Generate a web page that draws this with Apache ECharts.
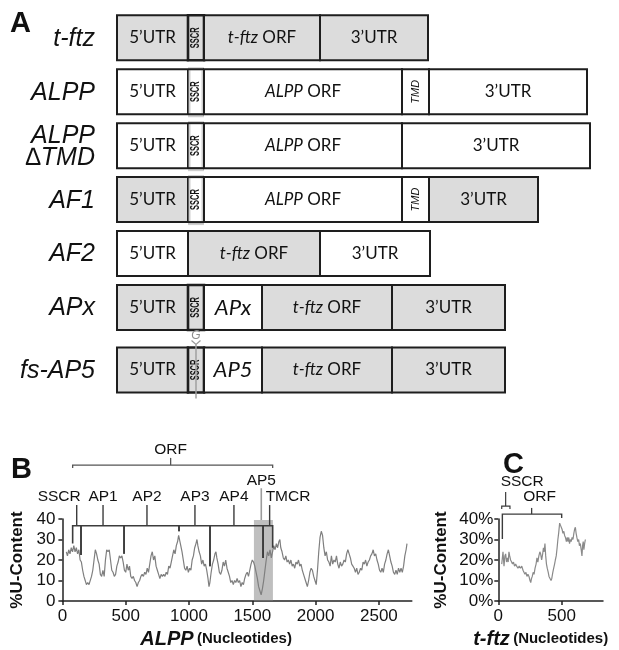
<!DOCTYPE html>
<html><head><meta charset="utf-8">
<script src="https://cdn.jsdelivr.net/npm/echarts@6/dist/echarts.min.js"></script>
<style>html,body{margin:0;padding:0;background:#fff}#c{width:619px;height:650px}</style>
</head><body><div id="c"></div>
<script>
// ---------------- DATA ----------------
// Panel A: construct names and their segments [label, start, end, source('t' = t-ftz, 'a' = ALPP)]
const constructNames = ['t-ftz', 'ALPP', 'ALPP\n∆TMD', 'AF1', 'AF2', 'APx', 'fs-AP5'];
const segTftz   = [['5’UTR',0,71,'t'],['SSCR',71,87,'t'],['t-ftz ORF',87,203,'t'],['3’UTR',203,311,'t']];
const segALPP   = [['5’UTR',0,71,'a'],['SSCR',71,87,'a'],['ALPP ORF',87,285,'a'],['TMD',285,312,'a'],['3’UTR',312,470,'a']];
const segALPPdT = [['5’UTR',0,71,'a'],['SSCR',71,87,'a'],['ALPP ORF',87,285,'a'],['3’UTR',285,473,'a']];
const segAF1    = [['5’UTR',0,71,'t'],['SSCR',71,87,'a'],['ALPP ORF',87,285,'a'],['TMD',285,312,'a'],['3’UTR',312,421,'t']];
const segAF2    = [['5’UTR',0,71,'a'],['t-ftz ORF',71,203,'t'],['3’UTR',203,313,'a']];
const segAPx    = [['5’UTR',0,71,'t'],['SSCR',71,87,'t'],['APx',87,145,'a'],['t-ftz ORF',145,275,'t'],['3’UTR',275,388,'t']];
const segFsAP5  = [['5’UTR',0,71,'t'],['SSCR',71,87,'t'],['AP5',87,145,'a'],['t-ftz ORF',145,275,'t'],['3’UTR',275,388,'t']];
const constructSegs = [segTftz, segALPP, segALPPdT, segAF1, segAF2, segAPx, segFsAP5];
const insertRow = 6, insertAt = 79, insertBase = 'G';

// Panel B: ALPP %U-content profile [nucleotide, %U]
const bProfile = [
[31,24],[40,22],[50,25],[60,23],[70,26],[80,24],[90,27],[100,24],[110,26],[120,23],[130,25],[140,20],[150,19],[160,15],[170,12],[180,10],[190,8],[200,9],[210,8],[220,8],[230,12],[240,15],[250,20],[260,25],[270,23],[280,20],[290,18],[300,13],[310,12],[320,15],[330,12],[340,20],[350,25],[360,24],[370,25],[380,20],[390,15],[400,14],[410,12],[420,13],[430,17],[440,19],[450,22],[460,21],[470,22],[480,19],[490,15],[500,14],[510,18],[520,15],[530,17],[540,12],[550,11],[560,12],[570,10],[580,9],[590,7],[600,9],[610,10],[620,12],[630,13],[640,12],[650,14],[660,13],[670,16],[680,14],[690,18],[700,22],[710,24],[720,20],[730,22],[740,17],[750,15],[760,13],[770,11],[780,13],[790,12],[800,13],[810,12],[820,14],[830,13],[840,17],[850,16],[860,19],[870,22],[880,25],[890,23],[900,27],[910,29],[918,32],[925,30],[935,27],[945,24],[955,20],[965,16],[975,15],[985,17],[995,14],[1005,16],[1015,15],[1025,20],[1035,22],[1045,26],[1055,28],[1063,30],[1070,27],[1080,24],[1090,22],[1100,18],[1110,20],[1120,17],[1130,18],[1140,15],[1150,11],[1158,7],[1165,9],[1175,14],[1185,18],[1195,20],[1205,23],[1213,24],[1220,21],[1230,18],[1240,14],[1250,13],[1260,15],[1270,19],[1280,17],[1290,20],[1300,16],[1310,14],[1320,12],[1330,9],[1340,10],[1350,8],[1360,10],[1370,9],[1380,11],[1390,9],[1400,10],[1410,7],[1420,9],[1430,8],[1440,11],[1450,13],[1460,14],[1470,12],[1480,15],[1490,18],[1500,20],[1510,19],[1520,17],[1530,14],[1540,11],[1550,7],[1560,5],[1570,3],[1580,6],[1590,10],[1600,15],[1610,20],[1620,24],[1630,22],[1640,25],[1650,21],[1660,24],[1670,27],[1680,25],[1690,28],[1700,26],[1710,29],[1718,30],[1725,26],[1735,24],[1745,21],[1755,20],[1765,22],[1775,19],[1785,20],[1795,18],[1805,20],[1815,17],[1825,18],[1835,16],[1845,19],[1855,18],[1865,20],[1875,17],[1885,18],[1895,15],[1905,13],[1915,11],[1925,9],[1935,7],[1945,10],[1955,14],[1965,16],[1975,15],[1985,12],[1995,10],[2005,8],[2015,15],[2025,24],[2035,31],[2045,34],[2055,32],[2065,26],[2075,22],[2085,24],[2095,20],[2105,19],[2115,17],[2125,22],[2135,18],[2145,20],[2155,19],[2165,22],[2175,18],[2185,16],[2195,19],[2205,17],[2215,18],[2225,20],[2235,19],[2245,23],[2255,25],[2265,23],[2275,21],[2285,18],[2295,17],[2305,16],[2315,14],[2325,16],[2335,13],[2345,14],[2355,16],[2365,15],[2375,19],[2385,18],[2395,20],[2405,17],[2415,19],[2425,20],[2435,22],[2445,23],[2455,25],[2465,22],[2475,23],[2485,20],[2495,18],[2505,15],[2515,14],[2525,16],[2535,14],[2545,18],[2555,20],[2565,23],[2575,25],[2585,22],[2595,19],[2605,17],[2615,14],[2625,13],[2635,15],[2645,13],[2655,16],[2665,14],[2675,16],[2685,14],[2695,17],[2705,22],[2715,25],[2722,28]
];
const bTicks = [0, 500, 1000, 1500, 2000, 2500];
const bYTicks = [0, 10, 20, 30, 40];
// ALPP regions: boundaries (nt), %U reached by each boundary line, region names and label stems
const bBoundaries = [81, 147, 487, 921, 1166, 1585, 1661];
const bBoundaryDrop = [28, 22.5, 23, 34, 17, 21, 26];
const bRegionNames = ['SSCR', 'AP1', 'AP2', 'AP3', 'AP4', 'TMCR'];
const bRegionStems = [113, 321, 668, 1047, 1355, 1637];
const bAP5 = {name: 'AP5', stem: 1571, start: 1513, end: 1663};
const bORF = {name: 'ORF', start: 81, end: 1661, stem: 855};

// Panel C: t-ftz %U-content profile [nucleotide, %U]
const cProfile = [
[27,18],[32,21],[37,24],[45,17],[52,22],[58,23],[65,19],[72,21],[78,19],[84,24],[90,22],[97,20],[105,19],[112,18],[120,19],[128,17],[137,18],[145,17],[155,16],[165,17],[175,16],[185,17],[195,15],[203,15],[210,13],[218,14],[226,12],[234,13],[242,12],[250,10],[256,9],[262,11],[268,12],[275,14],[282,13],[290,16],[298,18],[305,21],[312,19],[320,22],[328,24],[334,23],[342,20],[350,23],[356,26],[362,24],[368,28],[374,22],[380,18],[386,16],[394,14],[400,12],[408,11],[416,10],[422,11],[430,14],[437,16],[444,18],[450,20],[457,22],[464,26],[470,30],[476,33],[484,38],[490,37],[497,37],[503,35],[510,33],[517,34],[523,32],[530,31],[537,29],[544,31],[550,29],[556,31],[562,28],[568,30],[575,29],[582,31],[589,30],[596,33],[602,35],[608,36],[614,33],[620,31],[627,29],[634,30],[640,27],[647,28],[654,25],[660,22],[665,27],[670,29],[675,25],[681,28],[687,30]
];
const cTicks = [0, 500];
const cYTicks = [0, 10, 20, 30, 40];
const cSSCR = {name: 'SSCR', start: 27, end: 92, stem: 58};
const cORF = {name: 'ORF', start: 32, end: 500, stem: 263, dropStart: 30.2, dropEnd: 40.5};

// ---------------- LAYOUT / STYLE ----------------
const SANS = '"Liberation Sans", Arial, sans-serif';
const BOXF = 'Lato, "Open Sans", sans-serif';
const GRAY = '#dcdcdc';
const EDGE = '#1e1e1e';
const BOX_H = 45;

const rowPos = constructNames.map((n, i) => i === insertRow ? i + 0.16 : i);
const allSegs = [];
constructSegs.forEach((segs, r) => segs.forEach(s => allSegs.push({row: r, label: s[0], start: s[1], end: s[2], src: s[3]})));

function segText(seg, cx, cy) {
  const base = {fill: '#111', align: 'center', verticalAlign: 'middle'};
  if (seg.label === 'SSCR') {
    return {type: 'text', x: cx, y: cy, rotation: Math.PI / 2, scaleX: 0.62,
      style: Object.assign({}, base, {text: 'SSCR', fontFamily: SANS, fontWeight: 'bold', fontSize: 12})};
  }
  if (seg.label === 'TMD') {
    return {type: 'text', x: cx, y: cy, rotation: Math.PI / 2,
      style: Object.assign({}, base, {text: 'TMD', fontFamily: SANS, fontStyle: 'italic', fontSize: 11})};
  }
  if (seg.label === 'APx' || seg.label === 'AP5') {
    return {type: 'text', x: cx, y: cy,
      style: Object.assign({}, base, {text: seg.label, fontFamily: BOXF, fontStyle: 'italic', fontSize: 22})};
  }
  if (seg.label.endsWith(' ORF')) {
    const gene = seg.label.replace(' ORF', '');
    return {type: 'text', x: cx, y: cy,
      style: Object.assign({}, base, {text: '{i|' + gene + '} ORF', fontFamily: BOXF, fontSize: 17,
        rich: {i: {fontFamily: BOXF, fontStyle: 'italic', fontSize: 17, fill: '#111'}}})};
  }
  return {type: 'text', x: cx, y: cy, style: Object.assign({}, base, {text: seg.label, fontFamily: BOXF, fontSize: 17})};
}

function renderSeg(params, api) {
  const seg = allSegs[params.dataIndex];
  const yc = api.coord([0, rowPos[seg.row]])[1];
  const x0 = api.coord([seg.start, 0])[0];
  const x1 = api.coord([seg.end, 0])[0];
  const top = yc - BOX_H / 2;
  const children = [];
  const isSSCR = seg.label === 'SSCR';
  if (isSSCR && seg.src === 'a') {
    children.push({type: 'rect', shape: {x: x0, y: top - 2, width: x1 - x0, height: BOX_H + 5},
      style: {fill: '#cfcfcf'}});
    children.push({type: 'rect', shape: {x: x0 + 2.5, y: top + 1, width: x1 - x0 - 5, height: BOX_H - 2},
      style: {fill: '#ffffff'}});
    children.push({type: 'line', shape: {x1: x0, y1: top, x2: x1, y2: top}, style: {stroke: EDGE, lineWidth: 2}});
    children.push({type: 'line', shape: {x1: x0, y1: top + BOX_H, x2: x1, y2: top + BOX_H}, style: {stroke: EDGE, lineWidth: 2}});
    children.push({type: 'line', shape: {x1: x0, y1: top, x2: x0, y2: top + BOX_H}, style: {stroke: EDGE, lineWidth: 1.2}});
    children.push({type: 'line', shape: {x1: x1, y1: top, x2: x1, y2: top + BOX_H}, style: {stroke: EDGE, lineWidth: 1.2}});
  } else {
    children.push({type: 'rect', shape: {x: x0, y: top, width: x1 - x0, height: BOX_H},
      style: {fill: seg.src === 't' ? GRAY : '#ffffff', stroke: EDGE, lineWidth: isSSCR ? 2.6 : 2}});
  }
  children.push(segText(seg, (x0 + x1) / 2, yc));
  return {type: 'group', children: children};
}

function renderRowLabel(params, api) {
  const r = params.dataIndex;
  const yc = api.coord([0, rowPos[r]])[1];
  const x0 = api.coord([0, 0])[0];
  const children = [{type: 'text', x: x0 - 22, y: yc + 1,
    style: {text: constructNames[r], fontFamily: SANS, fontStyle: 'italic', fontSize: 25, lineHeight: 22,
      fill: '#111', align: 'right', verticalAlign: 'middle'}}];
  if (r === insertRow) {
    const xc = api.coord([insertAt, 0])[0];
    const top = yc - BOX_H / 2;
    children.push({type: 'text', x: xc, y: top - 11.5,
      style: {text: insertBase, fontFamily: SANS, fontStyle: 'italic', fontSize: 12, fill: '#8e8e8e', align: 'center', verticalAlign: 'middle'}});
    children.push({type: 'polyline', shape: {points: [[xc - 4.5, top - 7], [xc, top - 3], [xc + 4.5, top - 7]]},
      style: {stroke: '#9a9a9a', lineWidth: 1.2, fill: null}});
    children.push({type: 'line', shape: {x1: xc, y1: top - 3, x2: xc, y2: top + BOX_H + 6},
      style: {stroke: '#a0a0a0', lineWidth: 1.5}});
  }
  return {type: 'group', children: children};
}

// Panel B annotations (values in %U units above the plot)
const B_BRACKET = 36.7, B_STEM_TOP = 46.8, B_LABEL = 50.7;
const B_ORF_Y = 66.3, B_ORF_TICK = 64.9, B_ORF_STEM = 69.8, B_ORF_LABEL = 73.7;
const B_AP5_LOW = 39.5, B_AP5_TOP = 55, B_AP5_LABEL = 58.5;
const LINEC = '#3c3c3c';
const ANNF = 15.5;

function renderBRegion(params, api) {
  const i = params.dataIndex;
  const s = bBoundaries[i], e = bBoundaries[i + 1];
  const xs = api.coord([s, 0])[0], xe = api.coord([e, 0])[0], xm = api.coord([bRegionStems[i], 0])[0];
  const yTop = api.coord([0, B_BRACKET])[1];
  const ys = api.coord([0, bBoundaryDrop[i]])[1], ye = api.coord([0, bBoundaryDrop[i + 1]])[1];
  const yStem = api.coord([0, B_STEM_TOP])[1];
  const yLab = api.coord([0, B_LABEL])[1];
  const name = bRegionNames[i];
  let align = 'center', lx = xm;
  if (name === 'SSCR') { align = 'right'; lx = xm + 4; }
  if (name === 'TMCR') { align = 'left'; lx = xm - 4; }
  return {type: 'group', children: [
    {type: 'polyline', shape: {points: [[xs, ys], [xs, yTop], [xe, yTop], [xe, ye]]}, style: {stroke: LINEC, lineWidth: 1.6, fill: null}},
    {type: 'line', shape: {x1: xm, y1: yTop, x2: xm, y2: yStem}, style: {stroke: LINEC, lineWidth: 1.4}},
    {type: 'text', x: lx, y: yLab, style: {text: name, fontFamily: SANS, fontSize: ANNF, fill: '#111', align: align, verticalAlign: 'middle'}}
  ]};
}

function renderBExtra(params, api) {
  const xs = api.coord([bORF.start, 0])[0], xe = api.coord([bORF.end, 0])[0], xm = api.coord([bORF.stem, 0])[0];
  const y = api.coord([0, B_ORF_Y])[1], yt = api.coord([0, B_ORF_TICK])[1], ys = api.coord([0, B_ORF_STEM])[1];
  const yl = api.coord([0, B_ORF_LABEL])[1];
  const xa = api.coord([bAP5.stem, 0])[0];
  const ya0 = api.coord([0, B_AP5_LOW])[1], ya1 = api.coord([0, B_AP5_TOP])[1], yal = api.coord([0, B_AP5_LABEL])[1];
  return {type: 'group', children: [
    {type: 'polyline', shape: {points: [[xs, yt], [xs, y], [xe, y], [xe, yt]]}, style: {stroke: '#555', lineWidth: 1.3, fill: null}},
    {type: 'line', shape: {x1: xm, y1: y, x2: xm, y2: ys}, style: {stroke: '#555', lineWidth: 1.3}},
    {type: 'text', x: xm, y: yl, style: {text: bORF.name, fontFamily: SANS, fontSize: ANNF, fill: '#111', align: 'center', verticalAlign: 'middle'}},
    {type: 'line', shape: {x1: xa, y1: ya0, x2: xa, y2: ya1}, style: {stroke: '#9c9c9c', lineWidth: 1.6}},
    {type: 'text', x: xa, y: yal, style: {text: bAP5.name, fontFamily: SANS, fontSize: ANNF, fill: '#111', align: 'center', verticalAlign: 'middle'}}
  ]};
}

// Panel C annotations
const C_ORF_Y = 42.4, C_ORF_STEM = 45.4, C_ORF_LABEL = 50.7;
const C_SSCR_Y = 46.3, C_SSCR_TICK = 44.9, C_SSCR_STEM = 53.2, C_SSCR_LABEL = 58.3;
function renderC(params, api) {
  const xs = api.coord([cORF.start, 0])[0], xe = api.coord([cORF.end, 0])[0], xm = api.coord([cORF.stem, 0])[0];
  const y = api.coord([0, C_ORF_Y])[1];
  const yd0 = api.coord([0, cORF.dropStart])[1], yd1 = api.coord([0, cORF.dropEnd])[1];
  const ys = api.coord([0, C_ORF_STEM])[1], yl = api.coord([0, C_ORF_LABEL])[1];
  const ss = api.coord([cSSCR.start, 0])[0], se = api.coord([cSSCR.end, 0])[0], sm = api.coord([cSSCR.stem, 0])[0];
  const sy = api.coord([0, C_SSCR_Y])[1], st = api.coord([0, C_SSCR_TICK])[1], sst = api.coord([0, C_SSCR_STEM])[1];
  const sl = api.coord([0, C_SSCR_LABEL])[1];
  return {type: 'group', children: [
    {type: 'polyline', shape: {points: [[xs, yd0], [xs, y], [xe, y], [xe, yd1]]}, style: {stroke: LINEC, lineWidth: 1.4, fill: null}},
    {type: 'line', shape: {x1: xm, y1: y, x2: xm, y2: ys}, style: {stroke: LINEC, lineWidth: 1.3}},
    {type: 'text', x: xm + 8, y: yl, style: {text: cORF.name, fontFamily: SANS, fontSize: ANNF, fill: '#111', align: 'center', verticalAlign: 'middle'}},
    {type: 'polyline', shape: {points: [[ss, st], [ss, sy], [se, sy], [se, st]]}, style: {stroke: LINEC, lineWidth: 1.2, fill: null}},
    {type: 'line', shape: {x1: sm, y1: sy, x2: sm, y2: sst}, style: {stroke: LINEC, lineWidth: 1.2}},
    {type: 'text', x: sm - 5, y: sl, style: {text: cSSCR.name, fontFamily: SANS, fontSize: ANNF, fill: '#111', align: 'left', verticalAlign: 'middle'}}
  ]};
}

const axisLineStyle = {lineStyle: {color: '#222', width: 1.5}};
const tickStyle = {lineStyle: {color: '#222', width: 1.5}, length: 4};
const tickLabel = {fontFamily: SANS, fontSize: 17, color: '#111'};
const plain = v => String(v);

const option = {
  animation: false,
  grid: [
    {left: 117, top: 10.85, width: 500, height: 386.1, outerBoundsMode: 'none', containLabel: false},
    {left: 62.4, top: 519, width: 349.4, height: 82, outerBoundsMode: 'none', containLabel: false},
    {left: 498.3, top: 519, width: 104.7, height: 82, outerBoundsMode: 'none', containLabel: false}
  ],
  xAxis: [
    {gridIndex: 0, type: 'value', min: 0, max: 500, show: false},
    {gridIndex: 1, type: 'value', min: 0, max: 2760, interval: 500,
      axisLine: axisLineStyle, splitLine: {show: false},
      axisTick: Object.assign({customValues: bTicks}, tickStyle),
      axisLabel: Object.assign({customValues: bTicks, margin: 7, formatter: plain}, tickLabel),
      name: '{b|ALPP} {n|(Nucleotides)}', nameLocation: 'middle', nameGap: 28,
      nameTextStyle: {padding: [0, 42, 0, 0], rich: {
        b: {fontFamily: SANS, fontSize: 20, fontWeight: 'bold', fontStyle: 'italic', color: '#111'},
        n: {fontFamily: SANS, fontSize: 15, fontWeight: 'bold', color: '#111'}}}},
    {gridIndex: 2, type: 'value', min: 0, max: 826, interval: 500,
      axisLine: axisLineStyle, splitLine: {show: false},
      axisTick: Object.assign({customValues: cTicks}, tickStyle),
      axisLabel: Object.assign({customValues: cTicks, margin: 7, formatter: plain}, tickLabel),
      name: '{b|t-ftz} {n|(Nucleotides)}', nameLocation: 'middle', nameGap: 28,
      nameTextStyle: {padding: [0, 20, 0, 0], rich: {
        b: {fontFamily: SANS, fontSize: 20, fontWeight: 'bold', fontStyle: 'italic', color: '#111'},
        n: {fontFamily: SANS, fontSize: 15, fontWeight: 'bold', color: '#111'}}}}
  ],
  yAxis: [
    {gridIndex: 0, type: 'value', min: -0.5, max: 6.66, inverse: true, show: false},
    {gridIndex: 1, type: 'value', min: 0, max: 40, interval: 10,
      axisLine: Object.assign({show: true}, axisLineStyle), splitLine: {show: false},
      axisTick: Object.assign({show: true, customValues: bYTicks}, tickStyle),
      axisLabel: Object.assign({margin: 7, formatter: plain}, tickLabel),
      name: '%U-Content', nameLocation: 'middle', nameGap: 33,
      nameTextStyle: {fontFamily: SANS, fontSize: 17, fontWeight: 'bold', color: '#111'}},
    {gridIndex: 2, type: 'value', min: 0, max: 40, interval: 10,
      axisLine: Object.assign({show: true}, axisLineStyle), splitLine: {show: false},
      axisTick: Object.assign({show: true, customValues: cYTicks}, tickStyle),
      axisLabel: Object.assign({margin: 5, formatter: '{value}%'}, tickLabel),
      name: '%U-Content', nameLocation: 'middle', nameGap: 48,
      nameTextStyle: {fontFamily: SANS, fontSize: 17, fontWeight: 'bold', color: '#111'}}
  ],
  graphic: [
    {type: 'text', left: 10, top: 9, style: {text: 'A', font: 'bold 29px ' + SANS, fill: '#111'}},
    {type: 'text', left: 11, top: 455, style: {text: 'B', font: 'bold 29px ' + SANS, fill: '#111'}},
    {type: 'text', left: 503, top: 450, style: {text: 'C', font: 'bold 29px ' + SANS, fill: '#111'}}
  ],
  series: [
    {type: 'custom', xAxisIndex: 0, yAxisIndex: 0, renderItem: renderSeg,
      data: allSegs.map(s => [s.start, s.end, rowPos[s.row]]), encode: {x: [0, 1], y: 2}},
    {type: 'custom', xAxisIndex: 0, yAxisIndex: 0, renderItem: renderRowLabel,
      data: constructNames.map((n, i) => [0, rowPos[i]]), encode: {x: 0, y: 1}},
    {type: 'line', xAxisIndex: 1, yAxisIndex: 1, data: bProfile, showSymbol: false, symbol: 'none',
      lineStyle: {color: '#7f7f7f', width: 1.2}, z: 2,
      markArea: {silent: true, itemStyle: {color: 'rgba(128,128,128,0.5)'},
        data: [[{xAxis: bAP5.start, yAxis: 0}, {xAxis: bAP5.end, yAxis: B_AP5_LOW}]]}},
    {type: 'custom', xAxisIndex: 1, yAxisIndex: 1, renderItem: renderBRegion, clip: false, z: 3,
      data: bRegionNames.map((n, i) => [bBoundaries[i], bBoundaryDrop[i]]), encode: {x: 0, y: 1}},
    {type: 'custom', xAxisIndex: 1, yAxisIndex: 1, renderItem: renderBExtra, clip: false, z: 3,
      data: [[bORF.start, 0]], encode: {x: 0, y: 1}},
    {type: 'line', xAxisIndex: 2, yAxisIndex: 2, data: cProfile, showSymbol: false, symbol: 'none',
      lineStyle: {color: '#8a8a8a', width: 1.2}},
    {type: 'custom', xAxisIndex: 2, yAxisIndex: 2, renderItem: renderC, clip: false, z: 3,
      data: [[cORF.start, 0]], encode: {x: 0, y: 1}}
  ]
};
const chart = echarts.init(document.getElementById('c'), null, {renderer: 'canvas'});
chart.setOption(option);
</script>
</body></html>
